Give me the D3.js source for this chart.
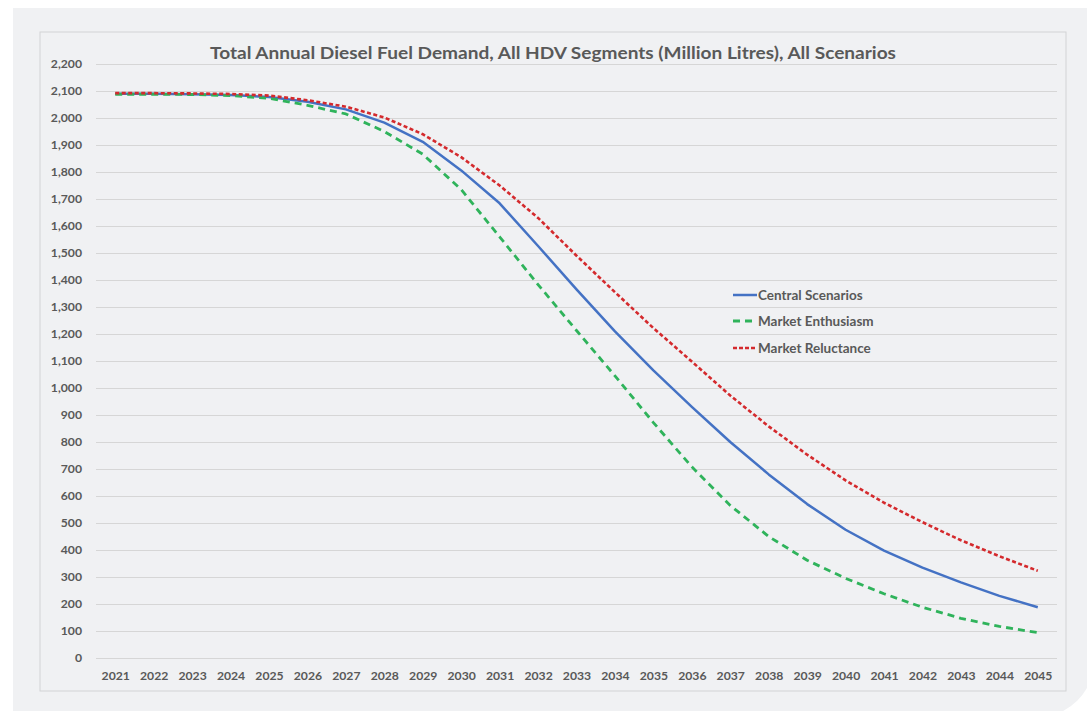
<!DOCTYPE html>
<html>
<head>
<meta charset="utf-8">
<script src="https://cdn.jsdelivr.net/npm/d3@7"></script>
<style>
  body { margin: 0; background: #ffffff; }
  svg { display: block; font-family: Lato, "Open Sans", sans-serif; }
</style>
</head>
<body>
<script>
// chart data
const years = d3.range(2021, 2046).map(String);
const central = [2090, 2090, 2088, 2085, 2078, 2060, 2032, 1983, 1912, 1806, 1684, 1526, 1365, 1210, 1065,
                 930, 800, 680, 570, 475, 398, 335, 280, 230, 188];
const enthusiasm = [2088, 2088, 2087, 2083, 2073, 2047, 2015, 1950, 1866, 1735, 1560, 1383, 1213, 1045, 872,
                    708, 565, 450, 362, 295, 238, 188, 147, 117, 94];
const reluctance = [2092, 2092, 2091, 2089, 2083, 2066, 2042, 2002, 1940, 1855, 1750, 1630, 1490, 1355, 1222,
                    1098, 972, 858, 753, 658, 575, 503, 436, 377, 323];
const yTicks = d3.range(0, 2201, 100);
const title = "Total Annual Diesel Fuel Demand, All HDV Segments (Million Litres), All Scenarios";

const series = [
  {name: "Central Scenarios", values: central, color: "#4472c4", dash: null, legendDash: null, width: 2.5},
  {name: "Market Enthusiasm", values: enthusiasm, color: "#2fb35b", dash: "7,5", legendDash: "7,5", width: 2.8},
  {name: "Market Reluctance", values: reluctance, color: "#d42a2d", dash: "4,2.5", legendDash: "4,2", width: 2.6}
];

const W = 1087, H = 711;
const svg = d3.select("body").append("svg")
  .attr("width", W).attr("height", H);

// grey card with rounded bottom-right corner
const R = 1095, B = 718, r = 60;
svg.append("path")
  .attr("d", `M13,8 H${R} V${B - r} A${r},${r} 0 0 1 ${R - r},${B} H13 Z`)
  .attr("fill", "#f0f1f3");

// chart frame
svg.append("rect")
  .attr("x", 40).attr("y", 32).attr("width", 1026).attr("height", 659)
  .attr("fill", "none").attr("stroke", "#d2d3d5").attr("stroke-width", 1);

const x = d3.scalePoint().domain(years).range([96, 1057]).padding(0.5);
const y = d3.scaleLinear().domain([0, 2200]).range([658, 64]);

// gridlines
svg.append("g")
  .selectAll("line")
  .data(yTicks)
  .join("line")
  .attr("x1", 96).attr("x2", 1057)
  .attr("y1", d => Math.round(y(d)) + 0.5).attr("y2", d => Math.round(y(d)) + 0.5)
  .attr("stroke", "#d6d6d6").attr("stroke-width", 1.2);

// y axis labels
const yAxis = svg.append("g")
  .attr("transform", "translate(96,0)")
  .call(d3.axisLeft(y).tickValues(yTicks).tickFormat(d3.format(",")).tickSize(0).tickPadding(14));
yAxis.select(".domain").remove();
yAxis.selectAll("text")
  .attr("fill", "#595959").attr("font-size", 12.2).attr("font-weight", "bold")
  .attr("font-family", "Lato, sans-serif");

// x axis labels
const xAxis = svg.append("g")
  .attr("transform", "translate(0,658)")
  .call(d3.axisBottom(x).tickSize(0).tickPadding(13));
xAxis.select(".domain").remove();
xAxis.selectAll("text")
  .attr("fill", "#595959").attr("font-size", 12.2).attr("font-weight", "bold")
  .attr("font-family", "Lato, sans-serif");

// lines
const line = d3.line()
  .x((d, i) => x(years[i]))
  .y(d => y(d));

svg.append("g")
  .selectAll("path")
  .data(series)
  .join("path")
  .attr("d", d => line(d.values))
  .attr("fill", "none")
  .attr("stroke", d => d.color)
  .attr("stroke-width", d => d.width)
  .attr("stroke-dasharray", d => d.dash)
  .attr("stroke-linejoin", "round");

// title
svg.append("text")
  .attr("x", 553).attr("y", 59)
  .attr("text-anchor", "middle")
  .attr("font-size", 17.5).attr("font-weight", "bold")
  .attr("fill", "#595959")
  .attr("textLength", 686).attr("lengthAdjust", "spacingAndGlyphs")
  .text(title);

// legend
const legend = svg.append("g")
  .selectAll("g")
  .data(series)
  .join("g")
  .attr("transform", (d, i) => `translate(733,${[295, 321, 348][i]})`);

legend.append("line")
  .attr("x1", 0).attr("x2", 24).attr("y1", 0).attr("y2", 0)
  .attr("stroke", d => d.color)
  .attr("stroke-width", d => d.width)
  .attr("stroke-dasharray", d => d.legendDash);

legend.append("text")
  .attr("x", 25).attr("y", 4.8)
  .attr("font-size", 13.5).attr("font-weight", "bold")
  .attr("fill", "#595959")
  .text(d => d.name);
</script>
</body>
</html>
